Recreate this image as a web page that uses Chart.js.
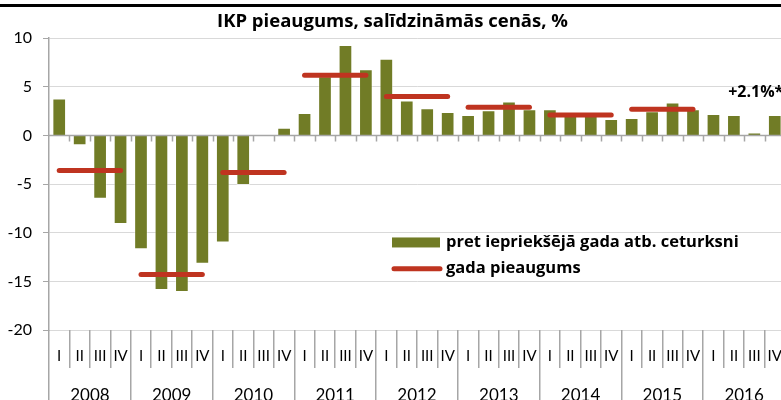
<!DOCTYPE html>
<html><head><meta charset="utf-8">
<script src="https://cdn.jsdelivr.net/npm/chart.js@4.4.0/dist/chart.umd.min.js"></script>
<style>
html,body{margin:0;padding:0;background:#fff;overflow:hidden;}
#wrap{width:781px;height:400px;overflow:hidden;position:relative;background:#fff;}
#box{width:790px;height:415px;position:absolute;left:0;top:0;}
</style></head><body>
<div id="wrap"><div id="box"><canvas id="c" width="790" height="415"></canvas></div></div>
<script>
const chartTitle = 'IKP pieaugums, salīdzināmās cenās, %';
const years = ['2008','2009','2010','2011','2012','2013','2014','2015','2016'];
const quarterNames = ['I','II','III','IV'];
const quarterlyGrowth = [
  3.8, -1.0, -6.5, -9.1,
  -11.7, -15.9, -16.1, -13.2,
  -11.0, -5.1, 0.0, 0.8,
  2.3, 6.1, 9.3, 6.8,
  7.9, 3.6, 2.8, 2.4,
  2.1, 2.6, 3.5, 2.7,
  2.7, 2.3, 2.2, 1.7,
  1.8, 2.5, 3.4, 2.7,
  2.2, 2.1, 0.3, 2.1
];
const annualGrowth = [-3.6, -14.3, -3.8, 6.2, 4.0, 2.9, 2.1, 2.7]; // 2008-2015
const seriesNames = ['pret iepriekšējā gada atb. ceturksni', 'gada pieaugums'];
const annotationText = '+2.1%*';

const GREEN = '#717c26';
const RED = '#bf3420';
const AXIS = '#a6a6a6';
const FONT = 'Lato';
const BOLD = '"Open Sans"';

const labels = years.flatMap(() => quarterNames);

const lineSets = annualGrowth.map((v, k) => ({
  type: 'line',
  label: seriesNames[1],
  data: labels.map((_, i) => Math.floor(i / 4) === k ? v : null),
  borderColor: RED,
  backgroundColor: RED,
  borderWidth: 5,
  borderCapStyle: 'round',
  pointRadius: 0,
  spanGaps: false,
  fill: false,
  order: 0
}));

const barSet = {
  type: 'bar',
  label: seriesNames[0],
  data: quarterlyGrowth,
  backgroundColor: GREEN,
  borderColor: 'rgba(255,255,255,0.45)',
  borderWidth: 1,
  barPercentage: 0.67,
  categoryPercentage: 1,
  order: 1
};

const decor = {
  id: 'decor',
  beforeDraw(chart) {
    const ctx = chart.ctx;
    ctx.save();
    ctx.fillStyle = '#fff';
    ctx.fillRect(0, 0, chart.width, chart.height);
    ctx.fillStyle = '#000';
    ctx.fillRect(0, 4, chart.width, 3);
    ctx.restore();
  },
  afterDatasetsDraw(chart) {
    const ctx = chart.ctx;
    const xs = chart.scales.x, ys = chart.scales.y, ca = chart.chartArea;
    const step = xs.getPixelForValue(1) - xs.getPixelForValue(0);
    const y0 = ys.getPixelForValue(0);
    ctx.save();
    ctx.strokeStyle = AXIS;
    ctx.lineWidth = 1.5;
    ctx.beginPath();
    ctx.moveTo(ca.left, y0);
    ctx.lineTo(ca.right, y0);
    for (let i = 1; i <= labels.length; i++) {
      const bx = Math.round(xs.getPixelForValue(i) - step / 2) + 0.5;
      ctx.moveTo(bx, y0);
      ctx.lineTo(bx, y0 + 6);
    }
    ctx.stroke();

    // annotation
    ctx.fillStyle = '#000';
    ctx.font = 'bold 16px ' + BOLD;
    ctx.textAlign = 'left';
    ctx.textBaseline = 'middle';
    ctx.fillText(annotationText, xs.getPixelForValue(32) + step * 0.72, ys.getPixelForValue(4.4));

    // legend
    const lx = ca.left + 343;
    const ly1 = ys.getPixelForValue(-11.0);
    const ly2 = ys.getPixelForValue(-13.7);
    ctx.fillStyle = GREEN;
    ctx.fillRect(lx, ly1 - 5, 48, 10);
    ctx.strokeStyle = RED;
    ctx.lineWidth = 5;
    ctx.lineCap = 'round';
    ctx.beginPath();
    ctx.moveTo(lx + 2, ly2);
    ctx.lineTo(lx + 48, ly2);
    ctx.stroke();
    ctx.fillStyle = '#000';
    ctx.font = 'bold 16.5px ' + BOLD;
    ctx.fillText(seriesNames[0], lx + 54, ly1);
    ctx.fillText(seriesNames[1], lx + 54, ly2);
    ctx.restore();
  }
};

new Chart(document.getElementById('c'), {
  type: 'bar',
  data: { labels, datasets: [...lineSets, barSet] },
  plugins: [decor],
  options: {
    responsive: false,
    animation: false,
    devicePixelRatio: 1,
    layout: { padding: { top: 10, right: 5, left: 0, bottom: 0 } },
    plugins: {
      legend: { display: false },
      tooltip: { enabled: false },
      title: {
        display: true,
        text: chartTitle,
        color: '#000',
        font: { family: BOLD, size: 18.5, weight: 'bold', lineHeight: 1.2 },
        padding: { top: 1, bottom: 5 }
      }
    },
    scales: {
      y: {
        min: -20, max: 10,
        ticks: { stepSize: 5, color: '#000', font: { family: FONT, size: 16 }, padding: 11 },
        grid: { color: '#d9d9d9', lineWidth: 1, tickLength: 6, tickColor: AXIS },
        border: { color: AXIS, width: 1.5 },
        afterFit: s => { s.width = 49; }
      },
      x: {
        type: 'category',
        position: 'bottom',
        grid: { offset: true, drawOnChartArea: false, tickLength: 38, color: AXIS, lineWidth: 1.5 },
        border: { display: false },
        ticks: { color: '#000', font: { family: FONT, size: 15 }, padding: -21, autoSkip: false, maxRotation: 0, minRotation: 0 },
        afterFit: s => { s.height = 38; }
      },
      x2: {
        type: 'category',
        labels: years,
        position: 'bottom',
        grid: { offset: true, drawOnChartArea: false, tickLength: 50, color: AXIS, lineWidth: 1.5 },
        border: { display: false },
        ticks: { color: '#000', font: { family: FONT, size: 17 }, padding: -33, autoSkip: false, maxRotation: 0, minRotation: 0 },
        afterFit: s => { s.height = 47; }
      }
    }
  }
});
</script>
</body></html>
